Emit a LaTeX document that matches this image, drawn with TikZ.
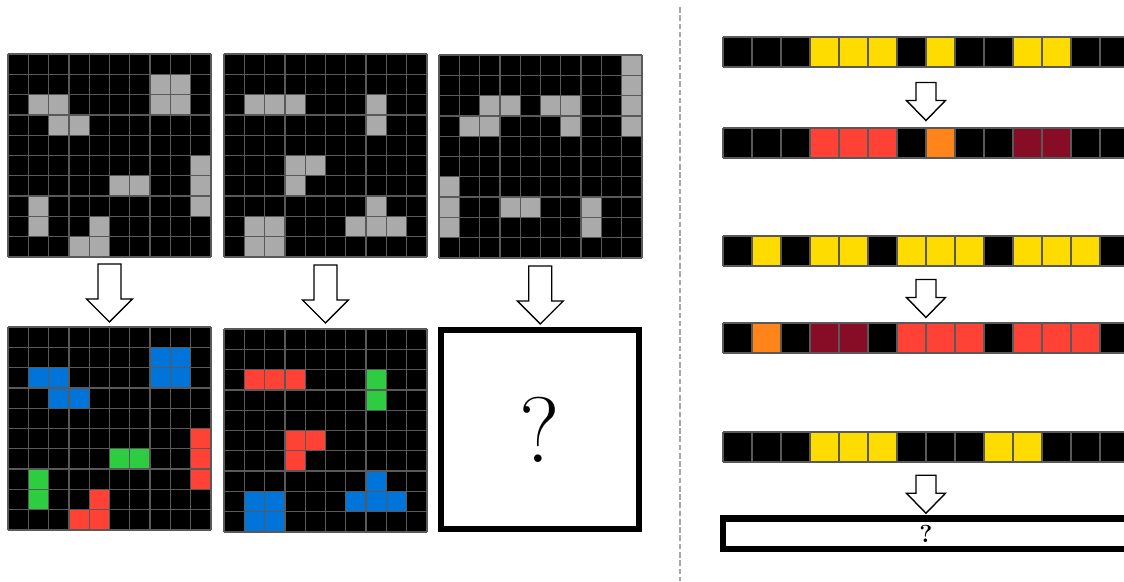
\documentclass[tikz,border=0pt]{standalone}
\usetikzlibrary{calc}

\definecolor{arcgray}{HTML}{AAAAAA}
\definecolor{arcblue}{HTML}{0074D9}
\definecolor{arcred}{HTML}{FF4136}
\definecolor{arcgreen}{HTML}{2ECC40}
\definecolor{arcyellow}{HTML}{FFDC00}
\definecolor{arcorange}{HTML}{FF851B}
\definecolor{arcmaroon}{HTML}{870C25}

\newcommand{\arcgrid}[4]{%
  \node[board,minimum size=4.06cm,anchor=north west] (#1) at (#2,#3) {};
  \foreach \k/\r/\c in {#4}
    \fill[\k] ({#2+\c*20.3},{#3+\r*20.3}) rectangle ++(20.3,20.3);
  \foreach \i in {0,...,10} {
    \draw[cellline] ({#2+\i*20.3},#3) -- ++(0,203);
    \draw[cellline] (#2,{#3+\i*20.3}) -- ++(203,0);
  }}
\newcommand{\arcstrip}[3]{%
  \node[board,minimum width=8.12cm,minimum height=0.6cm,anchor=north west] (#1) at (723,#2) {};
  \foreach \k/\c in {#3}
    \fill[\k] ({723+\c*29},#2) rectangle ++(29,30);
  \foreach \i in {0,...,14}
    \draw[cellline] ({723+\i*29},#2) -- ++(0,30);
  \draw[cellline] (723,#2) -- ++(406,0) (723,{#2+30}) -- ++(406,0);}

\begin{document}
\begin{tikzpicture}[
  x=0.02cm,y=-0.02cm,
  board/.style={fill=black,inner sep=0pt,outer sep=0pt},
  cellline/.style={draw=black!65,line width=0.7pt},
  askbox/.style={draw=black,fill=white,inner sep=0pt,outer sep=0pt},
  hollow/.style={draw=black,fill=white,line width=0.8pt,line join=miter},
  bigarrow/.pic={\draw[hollow] (-11.5,-28)--(11.5,-28)--(11.5,7)--(23,7)--(0,30)--(-23,7)--(-11.5,7)--cycle;},
  smallarrow/.pic={\draw[hollow] (-10,-15)--(10,-15)--(10,3)--(19.5,3)--(0,23)--(-19.5,3)--(-10,3)--cycle;}
]
  \clip (0,0) rectangle (1124,581);
  \fill[white] (0,0) rectangle (1124,581);

  \arcgrid{in1}{8}{54}{arcgray/1/7,arcgray/1/8,arcgray/2/1,arcgray/2/2,arcgray/2/7,arcgray/2/8,
    arcgray/3/2,arcgray/3/3,arcgray/5/9,arcgray/6/5,arcgray/6/6,arcgray/6/9,arcgray/7/1,arcgray/7/9,
    arcgray/8/1,arcgray/8/4,arcgray/9/3,arcgray/9/4}
  \arcgrid{in2}{224}{54}{arcgray/2/1,arcgray/2/2,arcgray/2/3,arcgray/2/7,arcgray/3/7,arcgray/5/3,
    arcgray/5/4,arcgray/6/3,arcgray/7/7,arcgray/8/1,arcgray/8/2,arcgray/8/6,arcgray/8/7,arcgray/8/8,
    arcgray/9/1,arcgray/9/2}
  \arcgrid{in3}{439}{55}{arcgray/0/9,arcgray/1/9,arcgray/2/2,arcgray/2/3,arcgray/2/5,arcgray/2/6,
    arcgray/2/9,arcgray/3/1,arcgray/3/2,arcgray/3/6,arcgray/3/9,arcgray/6/0,arcgray/7/0,arcgray/7/3,
    arcgray/7/4,arcgray/7/7,arcgray/8/0,arcgray/8/7}

  \arcgrid{out1}{8}{327}{arcblue/1/7,arcblue/1/8,arcblue/2/1,arcblue/2/2,arcblue/2/7,arcblue/2/8,
    arcblue/3/2,arcblue/3/3,arcred/5/9,arcgreen/6/5,arcgreen/6/6,arcred/6/9,arcgreen/7/1,arcred/7/9,
    arcgreen/8/1,arcred/8/4,arcred/9/3,arcred/9/4}
  \arcgrid{out2}{224}{329}{arcred/2/1,arcred/2/2,arcred/2/3,arcgreen/2/7,arcgreen/3/7,arcred/5/3,
    arcred/5/4,arcred/6/3,arcblue/7/7,arcblue/8/1,arcblue/8/2,arcblue/8/6,arcblue/8/7,arcblue/8/8,
    arcblue/9/1,arcblue/9/2}
  \node[askbox,line width=0.12cm,minimum width=3.96cm,minimum height=3.98cm,
    font=\fontsize{53}{60}\selectfont] (out3) at (540,429.5) {?};

  \pic at ($(in1.south)!.5!(out1.north)$) {bigarrow};
  \pic at ($(in2.south)!.5!(out2.north)$) {bigarrow};
  \pic at ($(in3.south)!.5!(out3.north)$) {bigarrow};

  \draw[black!35,line width=1pt,dash pattern=on 3.2pt off 1.5pt] (680,7) -- (680,581);

  \arcstrip{row1}{37}{arcyellow/3,arcyellow/4,arcyellow/5,arcyellow/7,arcyellow/10,arcyellow/11}
  \arcstrip{res1}{128}{arcred/3,arcred/4,arcred/5,arcorange/7,arcmaroon/10,arcmaroon/11}
  \arcstrip{row2}{236}{arcyellow/1,arcyellow/3,arcyellow/4,arcyellow/6,arcyellow/7,arcyellow/8,
    arcyellow/10,arcyellow/11,arcyellow/12}
  \arcstrip{res2}{323}{arcorange/1,arcmaroon/3,arcmaroon/4,arcred/6,arcred/7,arcred/8,
    arcred/10,arcred/11,arcred/12}
  \arcstrip{row3}{432}{arcyellow/3,arcyellow/4,arcyellow/5,arcyellow/9,arcyellow/10}
  \node[askbox,line width=0.13cm,minimum width=8.12cm,minimum height=0.61cm,anchor=north west,
    font=\fontsize{14}{16}\selectfont\bfseries] (res3) at (723,518.5) {?};

  \pic at ($(row1.south)!.5!(res1.north)$) {smallarrow};
  \pic at ($(row2.south)!.5!(res2.north)$) {smallarrow};
  \pic at ($(row3.south)!.5!(res3.north)$) {smallarrow};
\end{tikzpicture}
\end{document}
